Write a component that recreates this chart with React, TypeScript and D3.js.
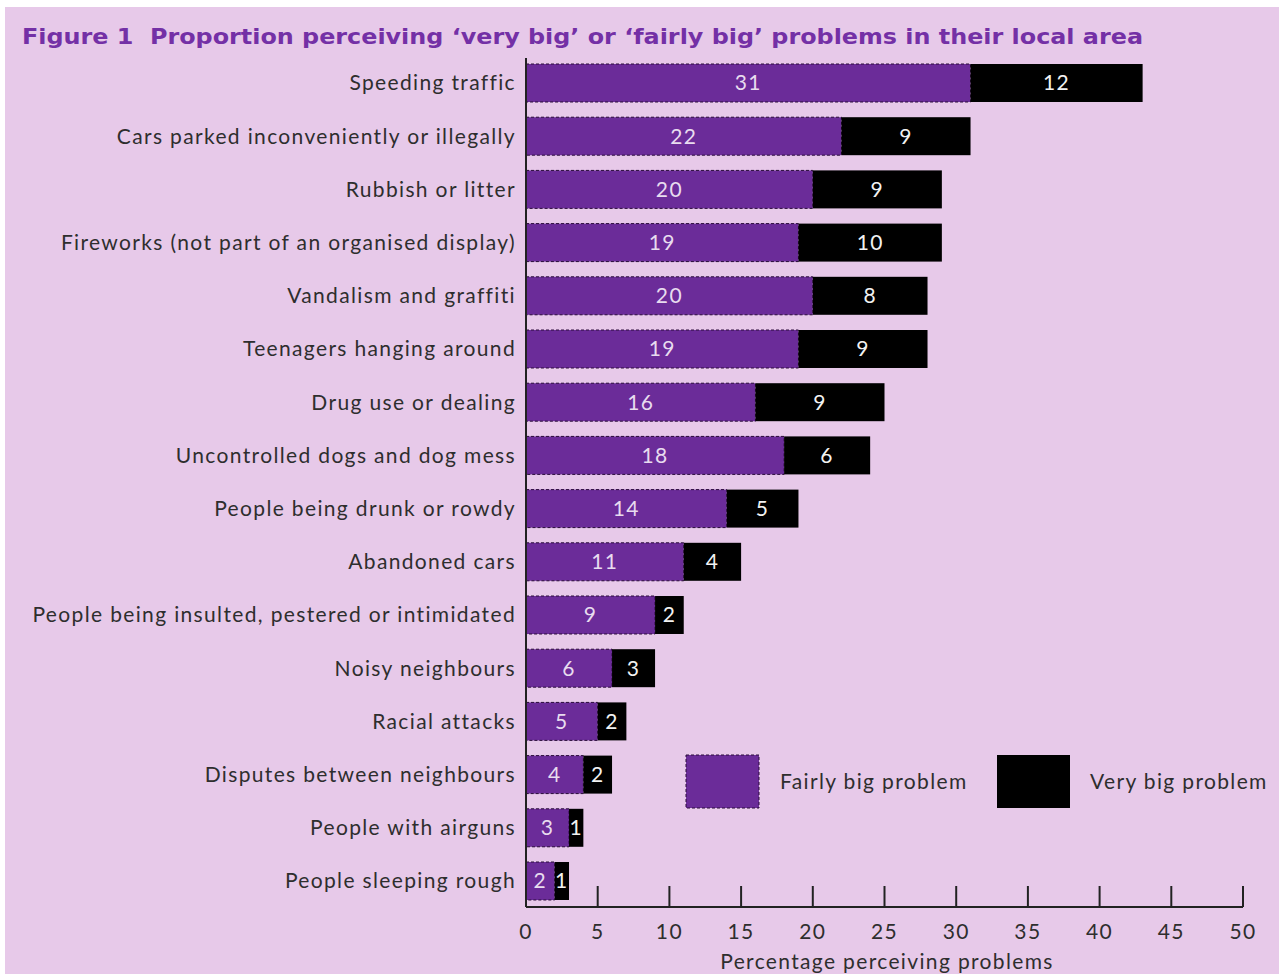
import React from "react";
import * as d3 from "d3";

const categories = [
  "Speeding traffic",
  "Cars parked inconveniently or illegally",
  "Rubbish or litter",
  "Fireworks (not part of an organised display)",
  "Vandalism and graffiti",
  "Teenagers hanging around",
  "Drug use or dealing",
  "Uncontrolled dogs and dog mess",
  "People being drunk or rowdy",
  "Abandoned cars",
  "People being insulted, pestered or intimidated",
  "Noisy neighbours",
  "Racial attacks",
  "Disputes between neighbours",
  "People with airguns",
  "People sleeping rough",
];
const fairlyBig = [31, 22, 20, 19, 20, 19, 16, 18, 14, 11, 9, 6, 5, 4, 3, 2];
const veryBig = [12, 9, 9, 10, 8, 9, 9, 6, 5, 4, 2, 3, 2, 2, 1, 1];
const xTicks = [0, 5, 10, 15, 20, 25, 30, 35, 40, 45, 50];
const seriesNames = ["Fairly big problem", "Very big problem"];

const W = 1279;
const H = 974;
const BG = "#e7c9e9";
const PURPLE = "#6b2c99";
const TITLE = "#7430a6";
const TEXT = "#2e2e2e";
const FONT = "Lato, 'Open Sans', sans-serif";
const LS = 1.35;

export default function App() {
  const x = d3.scaleLinear().domain([0, 50]).range([526, 1243]);
  const y = d3
    .scaleBand<string>()
    .domain(categories)
    .range([56.4, 907.6])
    .paddingInner(0.286)
    .paddingOuter(0.143);
  const axisY = 907;
  const bw = y.bandwidth();

  return (
    <svg
      width={W}
      height={H}
      style={{ position: "absolute", left: 0, top: 0, display: "block" }}
    >
      <rect x={0} y={0} width={W} height={H} fill="#ffffff" />
      <rect x={5} y={7} width={W - 5} height={H - 7} fill={BG} />
      <text
        x={22}
        y={44}
        fill={TITLE}
        fontFamily="'DejaVu Sans', Verdana, sans-serif"
        fontWeight="bold"
        fontSize={21}
        textLength={1121}
        lengthAdjust="spacingAndGlyphs"
      >
        Figure 1{"\u00a0\u00a0"}Proportion perceiving ‘very big’ or ‘fairly big’ problems in their local area
      </text>

      {categories.map((c, i) => {
        const y0 = y(c)!;
        const f = fairlyBig[i];
        const v = veryBig[i];
        const xf0 = x(0);
        const xf1 = x(f);
        const xv1 = x(f + v);
        return (
          <g key={c}>
            <rect
              x={xf0}
              y={y0}
              width={xf1 - xf0}
              height={bw}
              fill={PURPLE}
              stroke="#2a0c3a"
              strokeWidth={1}
              strokeDasharray="3,2"
            />
            <rect x={xf1} y={y0} width={xv1 - xf1} height={bw} fill="#000" />
            <text
              x={(xf0 + xf1) / 2}
              y={y0 + bw / 2}
              dy="0.35em"
              textAnchor="middle"
              fill="#e8dcef"
              fontFamily={FONT}
              fontSize={21}
              letterSpacing={LS}
            >
              {f}
            </text>
            <text
              x={(xf1 + xv1) / 2}
              y={y0 + bw / 2}
              dy="0.35em"
              textAnchor="middle"
              fill="#f2f2f2"
              fontFamily={FONT}
              fontSize={21}
              letterSpacing={LS}
            >
              {v}
            </text>
            <text
              x={516}
              y={y0 + bw / 2}
              dy="0.35em"
              textAnchor="end"
              fill={TEXT}
              fontFamily={FONT}
              fontSize={21}
              letterSpacing={LS}
            >
              {c}
            </text>
          </g>
        );
      })}

      {/* axes */}
      <line x1={x(0)} x2={x(0)} y1={58} y2={axisY} stroke="#222" strokeWidth={2} />
      <line x1={x(0)} x2={x(50)} y1={axisY} y2={axisY} stroke="#222" strokeWidth={2} />
      {xTicks.map((t) => (
        <g key={t}>
          {t > 0 && (
            <line x1={x(t)} x2={x(t)} y1={axisY} y2={axisY - 21} stroke="#222" strokeWidth={2} />
          )}
          <text
            x={x(t)}
            y={932}
            dy="0.35em"
            textAnchor="middle"
            fill={TEXT}
            fontFamily={FONT}
            fontSize={21}
            letterSpacing={LS}
          >
            {t}
          </text>
        </g>
      ))}
      <text
        x={887}
        y={962}
        dy="0.35em"
        textAnchor="middle"
        fill={TEXT}
        fontFamily={FONT}
        fontSize={21}
        letterSpacing={LS}
      >
        Percentage perceiving problems
      </text>

      {/* legend */}
      <rect x={686} y={755} width={73} height={53} fill={PURPLE} stroke="#2a0c3a" strokeDasharray="3,2" />
      <text x={780} y={782} dy="0.35em" fill={TEXT} fontFamily={FONT} fontSize={21} letterSpacing={LS}>
        {seriesNames[0]}
      </text>
      <rect x={997} y={755} width={73} height={53} fill="#000" />
      <text x={1090} y={782} dy="0.35em" fill={TEXT} fontFamily={FONT} fontSize={21} letterSpacing={LS}>
        {seriesNames[1]}
      </text>
    </svg>
  );
}
